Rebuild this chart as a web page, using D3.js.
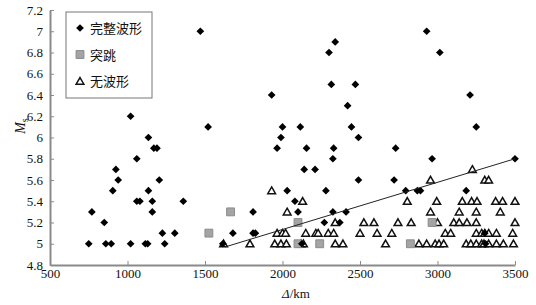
<!DOCTYPE html>
<html>
<head>
<meta charset="utf-8">
<script src="https://cdn.jsdelivr.net/npm/d3@7"></script>
<style>
  body { margin: 0; background: #fff; }
  svg text { font-family: "Liberation Serif", "Times New Roman", serif; }
  .cjk { font-family: "Noto Sans CJK SC", sans-serif; }
</style>
</head>
<body>
<div id="chart"></div>
<script>
// [distance km, Ms]
const fullWave = [
  [750, 5.0], [860, 5.0], [895, 5.0], [1020, 5.0], [1115, 5.0], [1130, 5.0], [1240, 5.0], [1615, 5.0], [2125, 5.0], [3310, 5.0],
  [1225, 5.1], [1305, 5.1], [1680, 5.1], [1810, 5.1], [1825, 5.1], [3305, 5.1],
  [850, 5.2], [2270, 5.2], [2370, 5.2],
  [770, 5.3], [1160, 5.3], [1810, 5.3], [2100, 5.3], [2325, 5.3], [2410, 5.3],
  [1060, 5.4], [1080, 5.4], [1160, 5.4], [1360, 5.4], [2080, 5.4],
  [905, 5.5], [1135, 5.5], [2030, 5.5], [2280, 5.5], [2795, 5.5], [2870, 5.5], [2890, 5.5], [3185, 5.5],
  [940, 5.6], [1205, 5.6], [2490, 5.6], [2720, 5.6],
  [925, 5.7], [2140, 5.7], [2210, 5.7],
  [1060, 5.8], [2325, 5.8], [2965, 5.8], [3500, 5.8],
  [1170, 5.9], [1190, 5.9], [1965, 5.9], [2155, 5.9], [2330, 5.9], [2730, 5.9],
  [1135, 6.0], [1990, 6.0], [2490, 6.0],
  [1520, 6.1], [2000, 6.1], [2115, 6.1], [2445, 6.1], [3250, 6.1],
  [1020, 6.2],
  [2420, 6.3],
  [1930, 6.4], [3210, 6.4],
  [2315, 6.5], [2470, 6.5],
  [2300, 6.8], [3015, 6.8],
  [2340, 6.9],
  [1470, 7.0], [2930, 7.0]
]

const jumps = [
  [1525, 5.1], [1665, 5.3], [2100, 5.2], [2100, 5.0], [2240, 5.0], [2825, 5.0], [2965, 5.2]
]

const noWave = [
  [1620, 5.0], [1790, 5.0], [1950, 5.0], [1990, 5.0], [2025, 5.0], [2120, 5.0], [2135, 5.0], [2340, 5.0], [2390, 5.0],
  [2665, 5.0], [2880, 5.0], [2930, 5.0], [2985, 5.0], [3010, 5.0], [3040, 5.0], [3185, 5.0], [3215, 5.0], [3250, 5.0],
  [3285, 5.0], [3300, 5.0], [3330, 5.0], [3380, 5.0], [3425, 5.0], [3490, 5.0],
  [1965, 5.1], [2000, 5.1], [2020, 5.1], [2150, 5.1], [2215, 5.1], [2230, 5.1], [2295, 5.1], [2330, 5.1], [2500, 5.1],
  [2610, 5.1], [2705, 5.1], [3050, 5.1], [3085, 5.1], [3250, 5.1], [3285, 5.1], [3305, 5.1], [3330, 5.1], [3380, 5.1], [3485, 5.1],
  [2340, 5.2], [2525, 5.2], [2590, 5.2], [2745, 5.2], [2830, 5.2], [3000, 5.2], [3105, 5.2], [3140, 5.2], [3190, 5.2], [3250, 5.2], [3500, 5.2],
  [2030, 5.3], [2955, 5.3], [3140, 5.3], [3250, 5.3], [3405, 5.3],
  [2130, 5.4], [2805, 5.4], [2995, 5.4], [3160, 5.4], [3220, 5.4], [3255, 5.4], [3375, 5.4], [3420, 5.4], [3500, 5.4],
  [1930, 5.5],
  [2955, 5.6], [3305, 5.6], [3330, 5.6],
  [3225, 5.7]
]

const trendLine = [[1630, 4.97], [3500, 5.80]]

const xTicks = [500, 1000, 1500, 2000, 2500, 3000, 3500]
const yTicks = [4.8, 5, 5.2, 5.4, 5.6, 5.8, 6, 6.2, 6.4, 6.6, 6.8, 7, 7.2]
const legendLabels = ["完整波形", "突跳", "无波形"]

const width = 536, height = 305
const margin = { top: 10, right: 21, bottom: 40, left: 50 }

const svg = d3.select("#chart").append("svg")
  .attr("width", width)
  .attr("height", height)

const x = d3.scaleLinear().domain([500, 3500]).range([margin.left, width - margin.right])
const y = d3.scaleLinear().domain([4.8, 7.2]).range([height - margin.bottom, margin.top])

const axisColor = "#8a8a8a"

// x axis, ticks pointing inward
const xAxis = svg.append("g")
  .attr("transform", "translate(0," + y(4.8) + ")")
  .call(d3.axisBottom(x).tickValues(xTicks).tickFormat(d3.format("d")).tickSizeInner(-4).tickSizeOuter(0).tickPadding(4))
xAxis.select(".domain").attr("stroke", axisColor).attr("stroke-width", 2)
xAxis.selectAll(".tick line").attr("stroke", axisColor).attr("stroke-width", 1)
xAxis.selectAll("text").attr("font-size", 13).attr("fill", "#111")
  .attr("font-family", "Liberation Serif")

const yAxis = svg.append("g")
  .attr("transform", "translate(" + x(500) + ",0)")
  .call(d3.axisLeft(y).tickValues(yTicks).tickFormat(d3.format("~g")).tickSizeInner(-4).tickSizeOuter(0).tickPadding(7))
yAxis.select(".domain").attr("stroke", axisColor).attr("stroke-width", 2)
yAxis.selectAll(".tick line").attr("stroke", axisColor).attr("stroke-width", 1)
yAxis.selectAll("text").attr("font-size", 13).attr("fill", "#111")
  .attr("font-family", "Liberation Serif")

// axis titles
const xTitle = svg.append("text")
  .attr("x", 296).attr("y", 298)
  .attr("text-anchor", "middle")
  .attr("font-size", 13)
  .attr("fill", "#111")
xTitle.append("tspan").attr("font-style", "italic").text("Δ")
xTitle.append("tspan").text("/km")

const yTitle = svg.append("text")
  .attr("transform", "translate(25,126) rotate(-90)")
  .attr("text-anchor", "middle")
  .attr("font-size", 14)
  .attr("fill", "#111")
yTitle.append("tspan").attr("font-style", "italic").text("M")
yTitle.append("tspan").attr("font-size", 10).attr("dy", 3).text("s")

// markers
const diamond = d3.symbol(d3.symbolDiamond2, 38)
const square = d3.symbol(d3.symbolSquare, 62)
const triangle = d3.symbol(d3.symbolTriangle, 26)

const plot = svg.append("g")

plot.selectAll(".noWave")
  .data(noWave)
  .enter()
  .append("path")
  .attr("class", "noWave")
  .attr("d", triangle)
  .attr("transform", d => "translate(" + x(d[0]) + "," + (y(d[1]) + 0.8) + ")")
  .attr("fill", "#fff")
  .attr("stroke", "#111")
  .attr("stroke-width", 1.5)
  .attr("stroke-linejoin", "miter")

plot.selectAll(".jump")
  .data(jumps)
  .enter()
  .append("path")
  .attr("class", "jump")
  .attr("d", square)
  .attr("transform", d => "translate(" + x(d[0]) + "," + y(d[1]) + ")")
  .attr("fill", "#a4a4a4")
  .attr("stroke", "#8c8c8c")
  .attr("stroke-width", 1)

plot.selectAll(".fullWave")
  .data(fullWave)
  .enter()
  .append("path")
  .attr("class", "fullWave")
  .attr("d", diamond)
  .attr("transform", d => "translate(" + x(d[0]) + "," + y(d[1]) + ")")
  .attr("fill", "#000")

// linear trend
svg.append("path")
  .datum(trendLine)
  .attr("d", d3.line().x(d => x(d[0])).y(d => y(d[1])))
  .attr("fill", "none")
  .attr("stroke", "#222")
  .attr("stroke-width", 1)

// legend
const legend = svg.append("g").attr("transform", "translate(66,12)")
legend.append("rect")
  .attr("width", 86).attr("height", 86)
  .attr("fill", "#fff")
  .attr("stroke", "#777")
  .attr("stroke-width", 1)

const legendSymbols = [
  { sym: diamond, fill: "#000", stroke: "none" },
  { sym: square, fill: "#a4a4a4", stroke: "#8c8c8c" },
  { sym: triangle, fill: "#fff", stroke: "#111" }
]
legendLabels.forEach((label, i) => {
  const row = legend.append("g").attr("transform", "translate(0," + (16 + i * 26.5) + ")")
  const s = legendSymbols[i]
  row.append("path")
    .attr("d", s.sym)
    .attr("transform", "translate(14," + (i == 2 ? 1 : 0) + ")")
    .attr("fill", s.fill)
    .attr("stroke", s.stroke)
    .attr("stroke-width", i == 2 ? 1.5 : 1)
  row.append("text")
    .attr("class", "cjk")
    .attr("x", 24).attr("y", 5)
    .attr("font-size", 13)
    .attr("fill", "#111")
    .text(label)
})
</script>
</body>
</html>
